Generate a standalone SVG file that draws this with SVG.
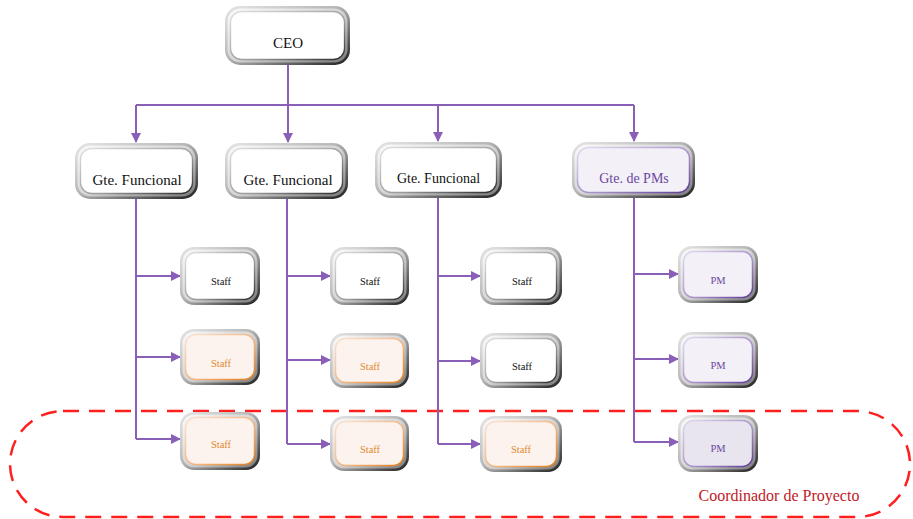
<svg xmlns="http://www.w3.org/2000/svg" width="913" height="519" viewBox="0 0 913 519">
<defs>
<linearGradient id="gOut" x1="0" y1="0" x2="1" y2="1">
<stop offset="0" stop-color="#e6e6e6"/><stop offset="0.45" stop-color="#b8b8b8"/><stop offset="1" stop-color="#1e1e1e"/>
</linearGradient>
<linearGradient id="gMid" x1="0" y1="0" x2="1" y2="1">
<stop offset="0" stop-color="#fbfbfb"/><stop offset="0.5" stop-color="#d6d6d6"/><stop offset="1" stop-color="#7a7a7a"/>
</linearGradient>
<linearGradient id="gInW" x1="0" y1="0" x2="1" y2="1">
<stop offset="0" stop-color="#e0e0e0"/><stop offset="0.6" stop-color="#9a9a9a"/><stop offset="1" stop-color="#2a2a2a"/>
</linearGradient>
<linearGradient id="gInO" x1="0" y1="0" x2="1" y2="1">
<stop offset="0" stop-color="#fbe3d3"/><stop offset="0.6" stop-color="#f2b27a"/><stop offset="1" stop-color="#e27e1c"/>
</linearGradient>
<linearGradient id="gInP" x1="0" y1="0" x2="1" y2="1">
<stop offset="0" stop-color="#e2dbee"/><stop offset="0.6" stop-color="#a58cc9"/><stop offset="1" stop-color="#5f3c98"/>
</linearGradient>
<marker id="arr" viewBox="0 0 10 10" refX="9" refY="5" markerWidth="5" markerHeight="5" orient="auto" markerUnits="strokeWidth">
<path d="M0,0 L10,5 L0,10 z" fill="#8a5fb8"/>
</marker>
<style>
.o{fill:url(#gOut)}
.m{fill:url(#gMid)}
.iw{fill:#ffffff;stroke:url(#gInW);stroke-width:1.3}
.io{fill:#fdf3ee;stroke:url(#gInO);stroke-width:1.5}
.ip{fill:#f3f0f7;stroke:url(#gInP);stroke-width:1.5}
.ip2{fill:#e9e5ef;stroke:url(#gInP);stroke-width:1.5}
.t{font-family:"Liberation Serif","DejaVu Serif",serif;text-anchor:middle;fill:#111}
.big{font-size:15px}
.mid{font-size:14px}
.sm{font-size:10.5px}
.to{fill:#dd8a2e}
.tp{fill:#6b46a0}
.con{fill:none;stroke:#8a5fb8;stroke-width:2}
</style>
</defs>
<rect x="10" y="411" width="900" height="106" rx="53" fill="none" stroke="#ff1f1f" stroke-width="2.5" stroke-dasharray="16 10"/>
<text x="779" y="501" font-family="Liberation Serif, DejaVu Serif, serif" font-size="16" fill="#c0201f" text-anchor="middle">Coordinador de Proyecto</text>
<g id="connectors">
<path class="con" d="M288,65 V105"/>
<path class="con" d="M136,105 H634"/>
<path class="con" d="M136,105 V142" marker-end="url(#arr)"/>
<path class="con" d="M288,105 V142" marker-end="url(#arr)"/>
<path class="con" d="M438,105 V141" marker-end="url(#arr)"/>
<path class="con" d="M634,105 V141" marker-end="url(#arr)"/>
<path class="con" d="M136,199 V439"/>
<path class="con" d="M136,276 H180" marker-end="url(#arr)"/>
<path class="con" d="M136,357 H180" marker-end="url(#arr)"/>
<path class="con" d="M136,439 H180" marker-end="url(#arr)"/>
<path class="con" d="M287,199 V444"/>
<path class="con" d="M287,276 H330" marker-end="url(#arr)"/>
<path class="con" d="M287,360 H330" marker-end="url(#arr)"/>
<path class="con" d="M287,444 H330" marker-end="url(#arr)"/>
<path class="con" d="M438,198 V444"/>
<path class="con" d="M438,276 H480" marker-end="url(#arr)"/>
<path class="con" d="M438,361 H480" marker-end="url(#arr)"/>
<path class="con" d="M438,444 H480" marker-end="url(#arr)"/>
<path class="con" d="M634,198 V442"/>
<path class="con" d="M634,274 H678" marker-end="url(#arr)"/>
<path class="con" d="M634,359 H678" marker-end="url(#arr)"/>
<path class="con" d="M634,442 H678" marker-end="url(#arr)"/>
</g>
<g id="ceo">
<rect class="o" x="225" y="6" width="125" height="59" rx="15"/>
<rect class="m" x="227.5" y="8.5" width="120" height="54" rx="13"/>
<rect class="iw" x="230.5" y="11.5" width="114" height="48" rx="11"/>
<text class="t big" x="288" y="48">CEO</text>
</g>
<g id="gf1">
<rect class="o" x="75" y="143" width="123" height="56" rx="15"/>
<rect class="m" x="77.5" y="145.5" width="118" height="51" rx="13"/>
<rect class="iw" x="80.5" y="148.5" width="112" height="45" rx="11"/>
<text class="t big" x="137" y="185">Gte. Funcional</text>
</g>
<g id="gf2">
<rect class="o" x="225" y="143" width="123" height="56" rx="15"/>
<rect class="m" x="227.5" y="145.5" width="118" height="51" rx="13"/>
<rect class="iw" x="230.5" y="148.5" width="112" height="45" rx="11"/>
<text class="t big" x="288" y="185">Gte. Funcional</text>
</g>
<g id="gf3">
<rect class="o" x="375" y="142" width="127" height="56" rx="15"/>
<rect class="m" x="377.5" y="144.5" width="122" height="51" rx="13"/>
<rect class="iw" x="380.5" y="147.5" width="116" height="45" rx="11"/>
<text class="t mid" x="438.5" y="183">Gte. Funcional</text>
</g>
<g id="gpm">
<rect class="o" x="572" y="142" width="123" height="56" rx="15"/>
<rect class="m" x="574.5" y="144.5" width="118" height="51" rx="13"/>
<rect class="ip" x="577.5" y="147.5" width="112" height="45" rx="11"/>
<text class="t mid tp" x="634" y="183">Gte. de PMs</text>
</g>
<g id="s11">
<rect class="o" x="180" y="247" width="80" height="58" rx="14"/>
<rect class="m" x="182.5" y="249.5" width="75" height="53" rx="12"/>
<rect class="iw" x="185.5" y="252.5" width="69" height="47" rx="10"/>
<text class="t sm" x="221" y="285">Staff</text>
</g>
<g id="s12">
<rect class="o" x="180" y="329" width="80" height="56" rx="14"/>
<rect class="m" x="182.5" y="331.5" width="75" height="51" rx="12"/>
<rect class="io" x="185.5" y="334.5" width="69" height="45" rx="10"/>
<text class="t sm to" x="221" y="367">Staff</text>
</g>
<g id="s13">
<rect class="o" x="180" y="412" width="80" height="58" rx="14"/>
<rect class="m" x="182.5" y="414.5" width="75" height="53" rx="12"/>
<rect class="io" x="185.5" y="417.5" width="69" height="47" rx="10"/>
<text class="t sm to" x="221" y="448">Staff</text>
</g>
<g id="s21">
<rect class="o" x="330" y="247" width="79" height="58" rx="14"/>
<rect class="m" x="332.5" y="249.5" width="74" height="53" rx="12"/>
<rect class="iw" x="335.5" y="252.5" width="68" height="47" rx="10"/>
<text class="t sm" x="370" y="285">Staff</text>
</g>
<g id="s22">
<rect class="o" x="330" y="333" width="79" height="55" rx="14"/>
<rect class="m" x="332.5" y="335.5" width="74" height="50" rx="12"/>
<rect class="io" x="335.5" y="338.5" width="68" height="44" rx="10"/>
<text class="t sm to" x="370" y="370">Staff</text>
</g>
<g id="s23">
<rect class="o" x="330" y="416" width="79" height="55" rx="14"/>
<rect class="m" x="332.5" y="418.5" width="74" height="50" rx="12"/>
<rect class="io" x="335.5" y="421.5" width="68" height="44" rx="10"/>
<text class="t sm to" x="370" y="453">Staff</text>
</g>
<g id="s31">
<rect class="o" x="480" y="247" width="82" height="58" rx="14"/>
<rect class="m" x="482.5" y="249.5" width="77" height="53" rx="12"/>
<rect class="iw" x="485.5" y="252.5" width="71" height="47" rx="10"/>
<text class="t sm" x="522" y="285">Staff</text>
</g>
<g id="s32">
<rect class="o" x="480" y="333" width="82" height="55" rx="14"/>
<rect class="m" x="482.5" y="335.5" width="77" height="50" rx="12"/>
<rect class="iw" x="485.5" y="338.5" width="71" height="44" rx="10"/>
<text class="t sm" x="522" y="370">Staff</text>
</g>
<g id="s33">
<rect class="o" x="480" y="416" width="82" height="56" rx="14"/>
<rect class="m" x="482.5" y="418.5" width="77" height="51" rx="12"/>
<rect class="io" x="485.5" y="421.5" width="71" height="45" rx="10"/>
<text class="t sm to" x="521" y="453">Staff</text>
</g>
<g id="pm1">
<rect class="o" x="678" y="246" width="80" height="57" rx="14"/>
<rect class="m" x="680.5" y="248.5" width="75" height="52" rx="12"/>
<rect class="ip" x="683.5" y="251.5" width="69" height="46" rx="10"/>
<text class="t sm tp" x="718" y="284">PM</text>
</g>
<g id="pm2">
<rect class="o" x="678" y="332" width="80" height="56" rx="14"/>
<rect class="m" x="680.5" y="334.5" width="75" height="51" rx="12"/>
<rect class="ip" x="683.5" y="337.5" width="69" height="45" rx="10"/>
<text class="t sm tp" x="718" y="369">PM</text>
</g>
<g id="pm3">
<rect class="o" x="678" y="415" width="80" height="57" rx="14"/>
<rect class="m" x="680.5" y="417.5" width="75" height="52" rx="12"/>
<rect class="ip2" x="683.5" y="420.5" width="69" height="46" rx="10"/>
<text class="t sm tp" x="718" y="452">PM</text>
</g>
</svg>
